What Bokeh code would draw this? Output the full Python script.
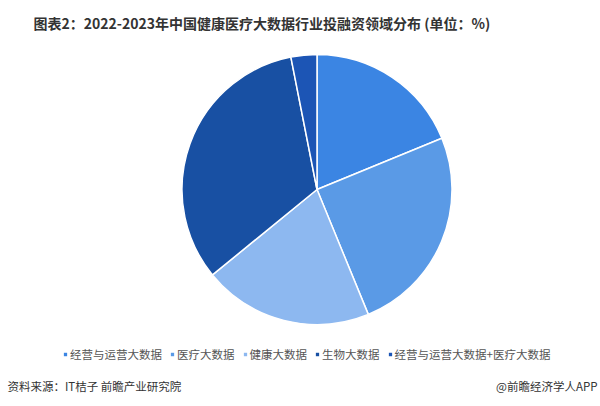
import math
from bokeh.plotting import figure
from bokeh.models import ColumnDataSource, Legend, LegendItem, Range1d
from bokeh.core.properties import value
from bokeh.embed import file_html
from bokeh.resources import INLINE

# Data
categories = ["经营与运营大数据", "医疗大数据", "健康大数据", "生物大数据", "经营与运营大数据+医疗大数据"]
shares = [18.8, 25.0, 20.3, 32.8, 3.1]
colors = ["#3b85e3", "#5a9ae6", "#8db8f0", "#1850a3", "#1c55b5"]
title_text = "图表2：2022-2023年中国健康医疗大数据行业投融资领域分布 (单位：%)"
source_text = "资料来源：IT桔子 前瞻产业研究院"
brand_text = "@前瞻经济学人APP"

W, H = 600, 406
FONT = "Noto Sans CJK SC"

total = sum(shares)
starts, ends = [], []
acc = 0.0
for v in shares:
    a0 = math.pi / 2 - 2 * math.pi * acc / total
    acc += v
    a1 = math.pi / 2 - 2 * math.pi * acc / total
    starts.append(a0)
    ends.append(a1)

src = ColumnDataSource(dict(cat=categories, val=shares, start=starts, end=ends, color=colors))

p = figure(width=W, height=H, output_backend="svg", toolbar_location=None,
           x_range=Range1d(0, W), y_range=Range1d(0, H), min_border=0,
           outline_line_color=None)
p.axis.visible = False
p.grid.visible = False
p.background_fill_color = "white"

cx, cy, r = 316.5, H - 189, 135
wr = p.wedge(x=cx, y=cy, radius=r, start_angle="start", end_angle="end", direction="clock",
             fill_color="color", line_color="white", line_width=1.5, source=src)

items = [LegendItem(label=c, renderers=[wr], index=i) for i, c in enumerate(categories)]
legend = Legend(items=items, orientation="horizontal", location=(62, 44),
                glyph_width=6, glyph_height=6, label_standoff=2, spacing=7, padding=0,
                margin=0, border_line_alpha=0, background_fill_alpha=0,
                label_text_font_size="11.5px", label_text_color="#555555",
                label_text_font=FONT, label_height=14)
p.add_layout(legend, "center")

p.text(x=[33], y=[H - 22], text=[title_text], text_font=value(FONT), text_font_style="bold",
       text_font_size="14px", text_color="#333333", text_baseline="middle", text_align="left")
p.text(x=[7], y=[H - 385], text=[source_text], text_font=value(FONT),
       text_font_size="11.5px", text_color="#333333", text_baseline="middle", text_align="left")
p.text(x=[W - 3], y=[H - 385], text=[brand_text], text_font=value(FONT),
       text_font_size="11.5px", text_color="#333333", text_baseline="middle", text_align="right")

open("out.html", "w").write(file_html(p, INLINE))
